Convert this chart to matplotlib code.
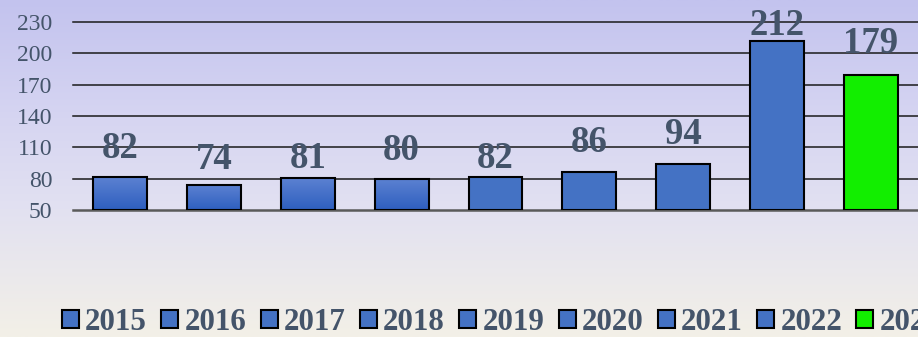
import matplotlib
matplotlib.use('Agg')
import matplotlib.pyplot as plt
import numpy as np
from matplotlib.colors import LinearSegmentedColormap
from matplotlib.patches import Patch

years = ['2015', '2016', '2017', '2018', '2019', '2020', '2021', '2022', '2023']
values = [82, 74, 81, 80, 82, 86, 94, 212, 179]
y_ticks = [50, 80, 110, 140, 170, 200, 230]

BASE = 50
BLUE = '#4472C4'
GREEN = '#12EE00'
TEXT = '#44546A'
bar_colors = [BLUE] * 8 + [GREEN]
shaded = [True, True, True, True, False, False, False, False, False]
# how far each value label sits above its bar, in pixels
label_lift = [19, 16, 10, 19, 9, 20, 20, 6, 22]

fig = plt.figure(figsize=(9.18, 3.37), dpi=100)

# page background: lavender at the top fading to a warm off-white
bg = fig.add_axes([0, 0, 1, 1], zorder=-10)
bg_cmap = LinearSegmentedColormap.from_list(
    'bg', [(0.0, '#c3c3ee'), (0.35, '#d6d5f2'), (0.62, '#e2e1f1'), (1.0, '#f3f0e7')])
grad = np.linspace(0, 1, 256).reshape(-1, 1)
bg.imshow(grad, cmap=bg_cmap, aspect='auto', extent=[0, 1, 0, 1], origin='upper')
bg.set_axis_off()

ax = fig.add_axes([73 / 918, 1 - 210 / 337, 1 - 73 / 918, (210 - 22) / 337])
ax.patch.set_alpha(0)
x = np.arange(len(years))
heights = [v - BASE for v in values]
bars = ax.bar(x, heights, bottom=BASE, width=0.575, color=bar_colors,
              edgecolor='black', linewidth=1.5, zorder=3)

# vertical shading on the first few bars
shade_cmap = LinearSegmentedColormap.from_list('shade', ['#5d82d2', '#2e5fbf'])
for bar, s in zip(bars, shaded):
    if not s:
        continue
    x0, y0 = bar.get_x(), bar.get_y()
    im = ax.imshow(grad, cmap=shade_cmap, aspect='auto', origin='upper',
                   extent=[x0, x0 + bar.get_width(), y0, y0 + bar.get_height()], zorder=3)
    im.set_clip_path(bar)
    bar.set_facecolor('none')
    bar.set_zorder(4)

ax.set_xlim(-0.5, len(years) - 0.5)
ax.set_ylim(BASE, 230)

for t in y_ticks[1:]:
    ax.axhline(t, color='#1a1a1a', linewidth=1.1, zorder=1, clip_on=False)
ax.axhline(BASE, color='#5a5a5a', linewidth=1.8, zorder=2, clip_on=False)

for i, (v, lift) in enumerate(zip(values, label_lift)):
    ax.annotate(str(v), (x[i], v), xytext=(0, lift), textcoords='offset pixels',
                ha='center', va='baseline', fontsize=26.5, fontweight='bold',
                family='Liberation Serif', color=TEXT, zorder=5)

ax.set_xticks([])
ax.set_yticks(y_ticks)
ax.tick_params(axis='y', length=0, pad=15, labelsize=17, labelcolor=TEXT)
for lab in ax.get_yticklabels():
    lab.set_family('Liberation Serif')
for s in ax.spines.values():
    s.set_visible(False)

handles = [Patch(facecolor=c, edgecolor='black', linewidth=1.5) for c in bar_colors]
leg = fig.legend(handles, years, loc='lower left', bbox_to_anchor=(62 / 918, 0.0),
                 ncol=len(years), frameon=False, borderpad=0, borderaxespad=0,
                 handlelength=0.55, handleheight=0.52, handletextpad=0.2,
                 columnspacing=0.46,
                 prop={'family': 'Liberation Serif', 'weight': 'bold', 'size': 22.3})
for t in leg.get_texts():
    t.set_color(TEXT)

fig.savefig('out.png', dpi=100)
